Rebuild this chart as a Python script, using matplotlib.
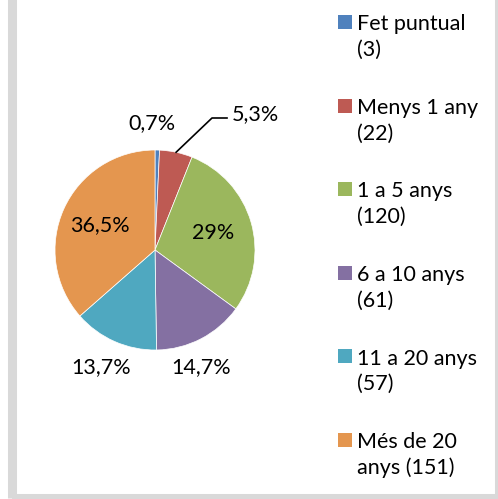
import numpy as np
import matplotlib
matplotlib.use("Agg")
import matplotlib.pyplot as plt
from matplotlib.patches import Rectangle

# %% data
categories = ['Fet puntual', 'Menys 1 any', '1 a 5 anys', '6 a 10 anys', '11 a 20 anys', 'Més de 20 anys']
counts = [3, 22, 120, 61, 57, 151]
pct_labels = ['0,7%', '5,3%', '29%', '14,7%', '13,7%', '36,5%']
legend_labels = ['Fet puntual\n(3)', 'Menys 1 any\n(22)', '1 a 5 anys\n(120)',
                 '6 a 10 anys\n(61)', '11 a 20 anys\n(57)', 'Més de 20\nanys (151)']
colors = ['#4F81BD', '#BE5A53', '#9BB75D', '#8470A2', '#4FA8C0', '#E4964F']

plt.rcParams['font.family'] = ['Lato', 'DejaVu Sans']
fs = 15.5

W, H = 498, 499
fig = plt.figure(figsize=(W / 100, H / 100), dpi=100)

# grey frame round the chart
fig.patches.append(Rectangle((11.5 / W, 1 - 497.5 / H), (498.5 - 11.5) / W, 1.2,
                             transform=fig.transFigure, fill=False,
                             edgecolor='#d9d9d9', lw=6.5, zorder=0))

# %% pie: centre (155, 250) px, radius 100 px
cx, cy, r = 155, 250, 100
ax = fig.add_axes([(cx - r) / W, 1 - (cy + r) / H, 2 * r / W, 2 * r / H])
wedges, _ = ax.pie(counts, colors=colors, startangle=90, counterclock=False,
                   wedgeprops=dict(edgecolor='white', linewidth=0.5))
ax.set_xlim(-1, 1)
ax.set_ylim(-1, 1)
ax.axis('off')

# mid angles of the slices (radians, measured like matplotlib)
mids = [np.deg2rad((w.theta1 + w.theta2) / 2) for w in wedges]

def at(i, rad):
    return rad * np.cos(mids[i]), rad * np.sin(mids[i])

# inside labels
for i in [2, 5]:
    x, y = at(i, 0.6)
    ax.text(x, y, pct_labels[i], ha='center', va='center', fontsize=fs)

# outside labels
ax.text(-0.03, 1.27, pct_labels[0], ha='center', va='center', fontsize=fs)
ax.text(0.46, -1.17, pct_labels[3], ha='center', va='center', fontsize=fs)
ax.text(-0.54, -1.17, pct_labels[4], ha='center', va='center', fontsize=fs)

# 5,3% with leader line
x0, y0 = at(1, 1.0)
ax.plot([x0, 0.57, 0.72], [y0, 1.32, 1.32], color='black', lw=1.2, clip_on=False)
ax.text(0.77, 1.36, pct_labels[1], ha='left', va='center', fontsize=fs)

# %% legend on the right
for i, lab in enumerate(legend_labels):
    yc = 22 + 83.6 * i
    fig.patches.append(Rectangle((338 / W, 1 - (yc + 7) / H), 14 / W, 14 / H,
                                 transform=fig.transFigure, facecolor=colors[i],
                                 edgecolor='none'))
    fig.text(357 / W, 1 - (yc + 15) / H, lab, ha='left', va='center',
             fontsize=fs, linespacing=1.35)

fig.savefig('out.png', dpi=100)
